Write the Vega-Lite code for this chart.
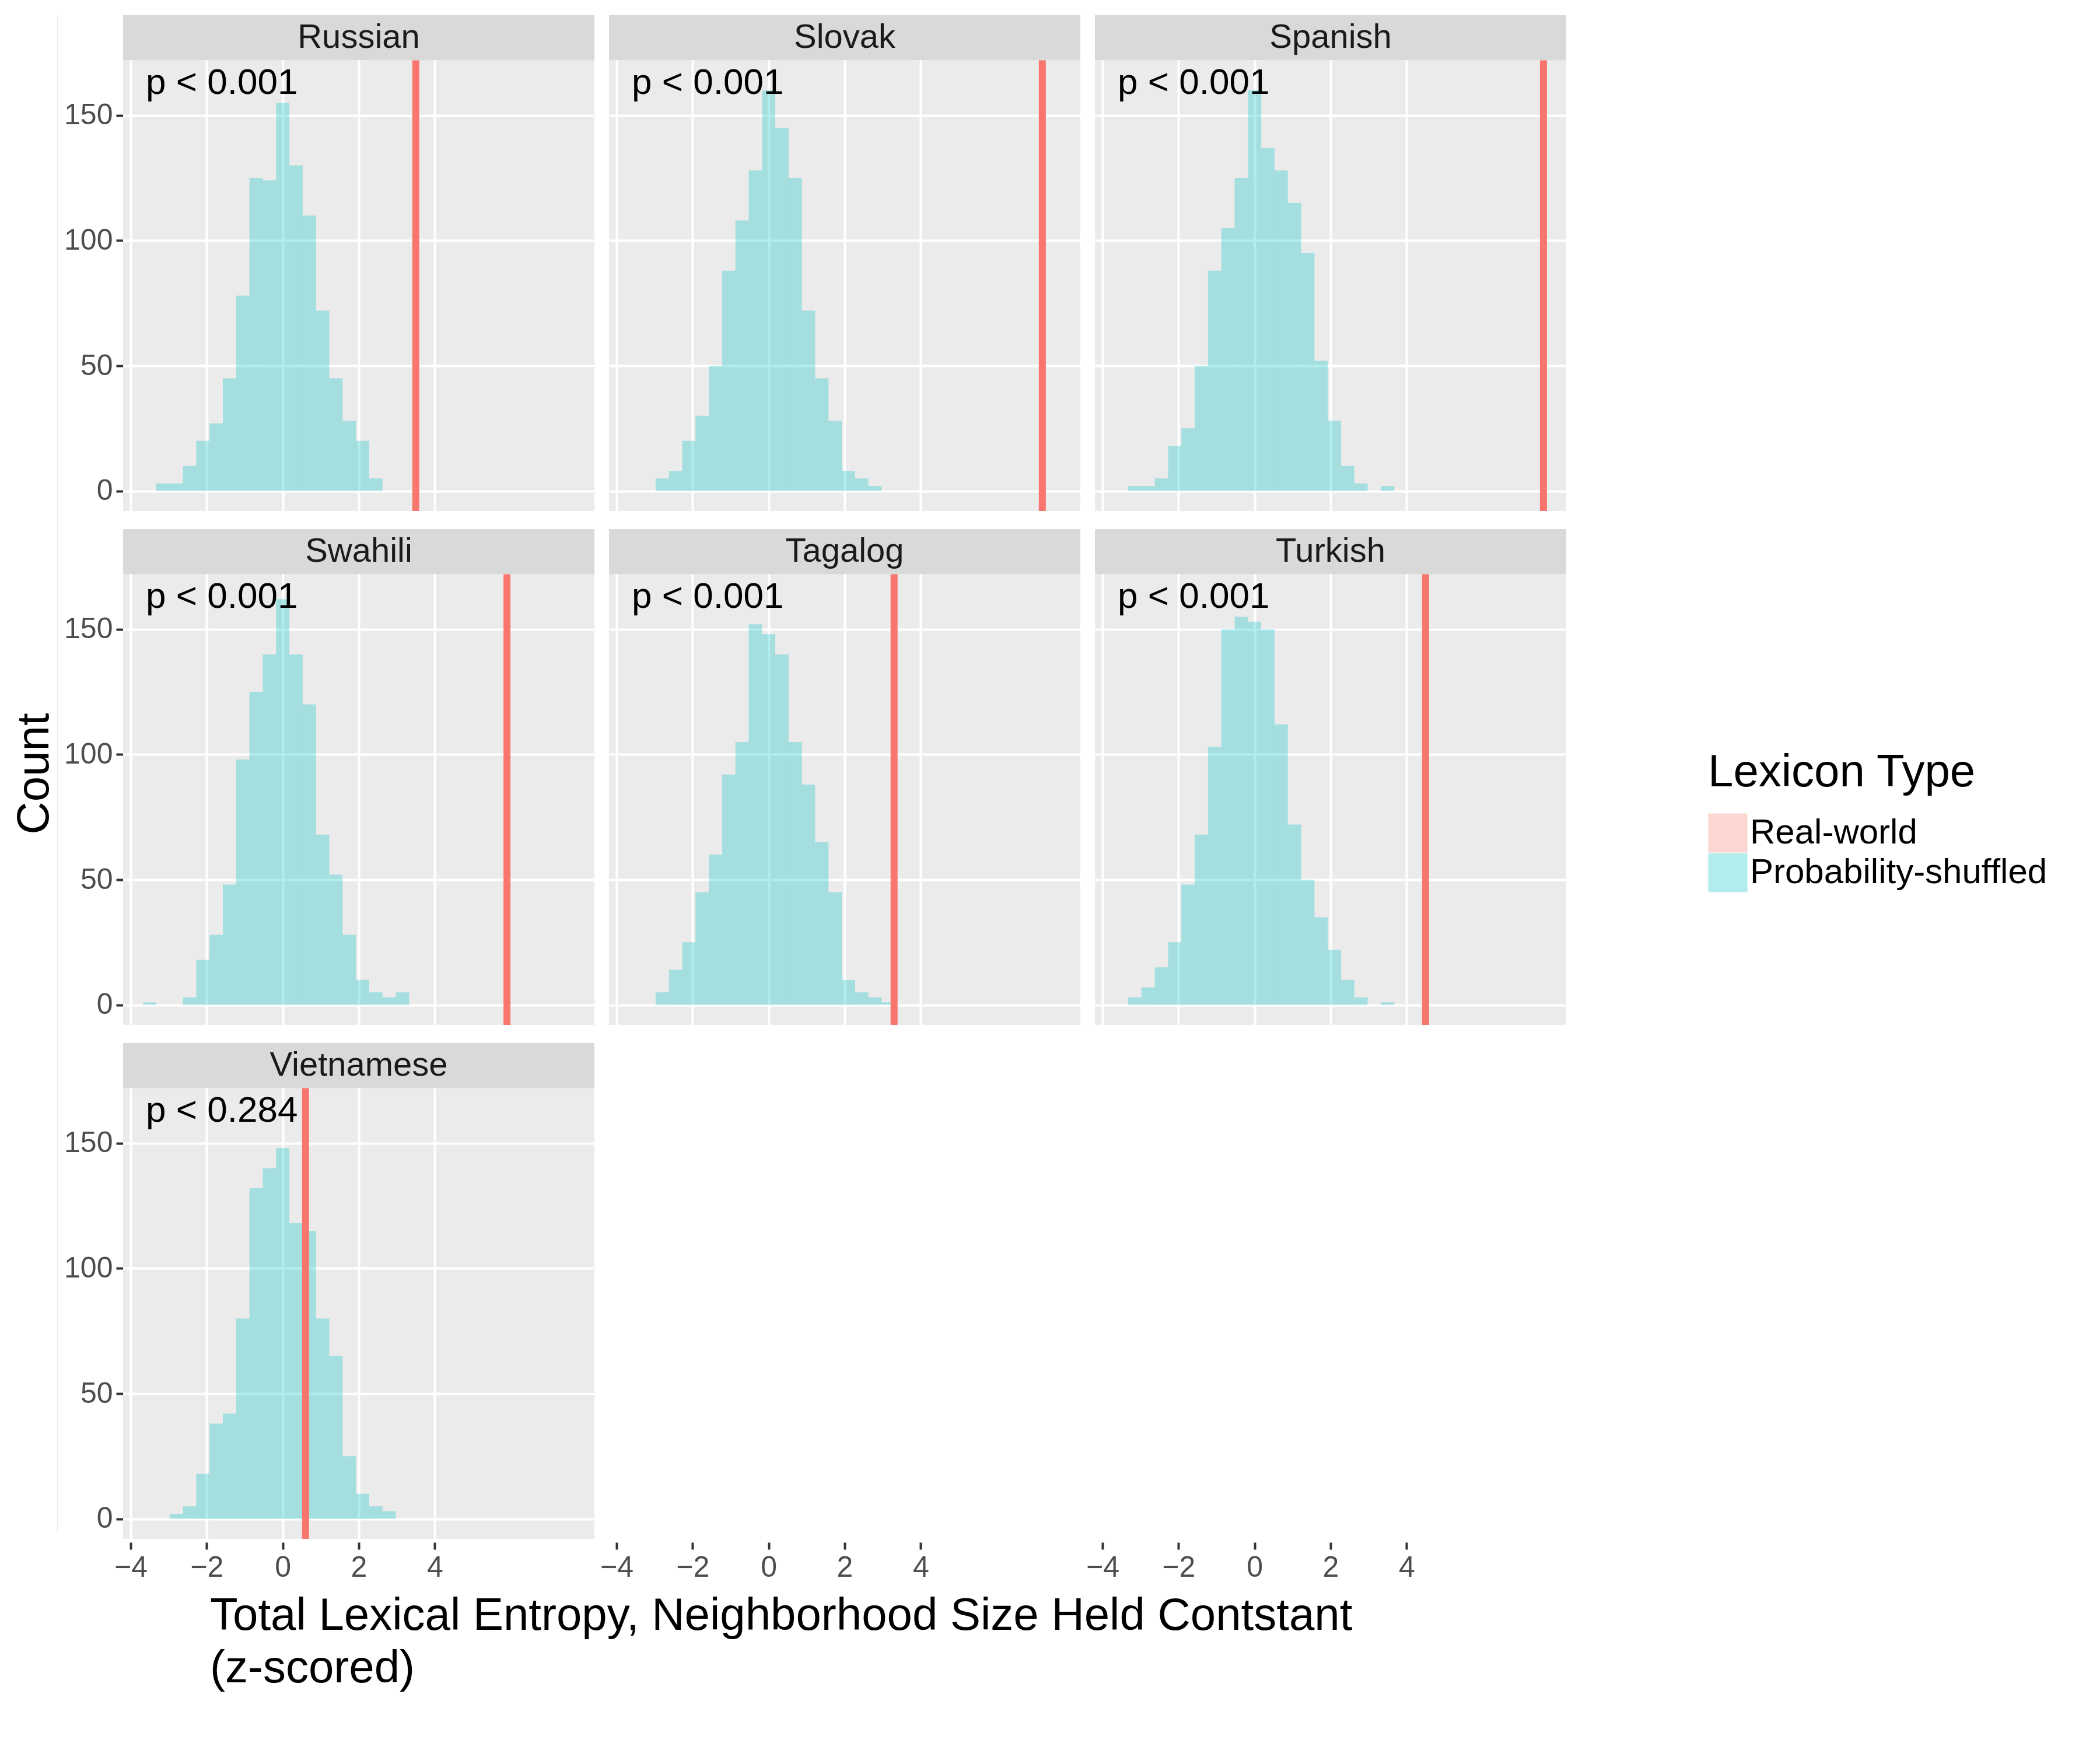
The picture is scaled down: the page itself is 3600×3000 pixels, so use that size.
{
  "$schema": "https://vega.github.io/schema/vega-lite/v6.json",
  "background": "white",
  "padding": {"left": 20, "top": 20, "right": 10, "bottom": 10},
  "title": {"text": ["Total Lexical Entropy, Neighborhood Size Held Contstant", "(z-scored)"], "orient": "bottom", "anchor": "start", "dx": 340, "fontSize": 78, "fontWeight": "normal", "color": "black", "offset": 20, "lineHeight": 90},
  "data": {"values": [
    {"lang":"Russian","real":3.5,"p":"p < 0.001"},
    {"lang":"Slovak","real":7.2,"p":"p < 0.001"},
    {"lang":"Spanish","real":7.6,"p":"p < 0.001"},
    {"lang":"Swahili","real":5.9,"p":"p < 0.001"},
    {"lang":"Tagalog","real":3.3,"p":"p < 0.001"},
    {"lang":"Turkish","real":4.5,"p":"p < 0.001"},
    {"lang":"Vietnamese","real":0.6,"p":"p < 0.284"},
    {"lang":"Russian","z":-3.15,"n":3},{"lang":"Russian","z":-2.8,"n":3},{"lang":"Russian","z":-2.45,"n":10},{"lang":"Russian","z":-2.1,"n":20},{"lang":"Russian","z":-1.75,"n":27},{"lang":"Russian","z":-1.4,"n":45},{"lang":"Russian","z":-1.05,"n":78},{"lang":"Russian","z":-0.7,"n":125},{"lang":"Russian","z":-0.35,"n":124},{"lang":"Russian","z":0,"n":155},{"lang":"Russian","z":0.35,"n":130},{"lang":"Russian","z":0.7,"n":110},{"lang":"Russian","z":1.05,"n":72},{"lang":"Russian","z":1.4,"n":45},{"lang":"Russian","z":1.75,"n":28},{"lang":"Russian","z":2.1,"n":20},{"lang":"Russian","z":2.45,"n":5},
    {"lang":"Slovak","z":-2.8,"n":5},{"lang":"Slovak","z":-2.45,"n":8},{"lang":"Slovak","z":-2.1,"n":20},{"lang":"Slovak","z":-1.75,"n":30},{"lang":"Slovak","z":-1.4,"n":50},{"lang":"Slovak","z":-1.05,"n":88},{"lang":"Slovak","z":-0.7,"n":108},{"lang":"Slovak","z":-0.35,"n":128},{"lang":"Slovak","z":0,"n":160},{"lang":"Slovak","z":0.35,"n":145},{"lang":"Slovak","z":0.7,"n":125},{"lang":"Slovak","z":1.05,"n":72},{"lang":"Slovak","z":1.4,"n":45},{"lang":"Slovak","z":1.75,"n":28},{"lang":"Slovak","z":2.1,"n":8},{"lang":"Slovak","z":2.45,"n":5},{"lang":"Slovak","z":2.8,"n":2},
    {"lang":"Spanish","z":-3.15,"n":2},{"lang":"Spanish","z":-2.8,"n":2},{"lang":"Spanish","z":-2.45,"n":5},{"lang":"Spanish","z":-2.1,"n":18},{"lang":"Spanish","z":-1.75,"n":25},{"lang":"Spanish","z":-1.4,"n":50},{"lang":"Spanish","z":-1.05,"n":88},{"lang":"Spanish","z":-0.7,"n":105},{"lang":"Spanish","z":-0.35,"n":125},{"lang":"Spanish","z":0,"n":160},{"lang":"Spanish","z":0.35,"n":137},{"lang":"Spanish","z":0.7,"n":128},{"lang":"Spanish","z":1.05,"n":115},{"lang":"Spanish","z":1.4,"n":95},{"lang":"Spanish","z":1.75,"n":52},{"lang":"Spanish","z":2.1,"n":28},{"lang":"Spanish","z":2.45,"n":10},{"lang":"Spanish","z":2.8,"n":3},{"lang":"Spanish","z":3.5,"n":2},
    {"lang":"Swahili","z":-3.5,"n":1},{"lang":"Swahili","z":-2.45,"n":3},{"lang":"Swahili","z":-2.1,"n":18},{"lang":"Swahili","z":-1.75,"n":28},{"lang":"Swahili","z":-1.4,"n":48},{"lang":"Swahili","z":-1.05,"n":98},{"lang":"Swahili","z":-0.7,"n":125},{"lang":"Swahili","z":-0.35,"n":140},{"lang":"Swahili","z":0,"n":162},{"lang":"Swahili","z":0.35,"n":140},{"lang":"Swahili","z":0.7,"n":120},{"lang":"Swahili","z":1.05,"n":68},{"lang":"Swahili","z":1.4,"n":52},{"lang":"Swahili","z":1.75,"n":28},{"lang":"Swahili","z":2.1,"n":10},{"lang":"Swahili","z":2.45,"n":5},{"lang":"Swahili","z":2.8,"n":3},{"lang":"Swahili","z":3.15,"n":5},
    {"lang":"Tagalog","z":-2.8,"n":5},{"lang":"Tagalog","z":-2.45,"n":14},{"lang":"Tagalog","z":-2.1,"n":25},{"lang":"Tagalog","z":-1.75,"n":45},{"lang":"Tagalog","z":-1.4,"n":60},{"lang":"Tagalog","z":-1.05,"n":92},{"lang":"Tagalog","z":-0.7,"n":105},{"lang":"Tagalog","z":-0.35,"n":152},{"lang":"Tagalog","z":0,"n":148},{"lang":"Tagalog","z":0.35,"n":140},{"lang":"Tagalog","z":0.7,"n":105},{"lang":"Tagalog","z":1.05,"n":88},{"lang":"Tagalog","z":1.4,"n":65},{"lang":"Tagalog","z":1.75,"n":45},{"lang":"Tagalog","z":2.1,"n":10},{"lang":"Tagalog","z":2.45,"n":5},{"lang":"Tagalog","z":2.8,"n":3},{"lang":"Tagalog","z":3.15,"n":1},
    {"lang":"Turkish","z":-3.15,"n":3},{"lang":"Turkish","z":-2.8,"n":7},{"lang":"Turkish","z":-2.45,"n":15},{"lang":"Turkish","z":-2.1,"n":25},{"lang":"Turkish","z":-1.75,"n":48},{"lang":"Turkish","z":-1.4,"n":68},{"lang":"Turkish","z":-1.05,"n":103},{"lang":"Turkish","z":-0.7,"n":150},{"lang":"Turkish","z":-0.35,"n":155},{"lang":"Turkish","z":0,"n":153},{"lang":"Turkish","z":0.35,"n":150},{"lang":"Turkish","z":0.7,"n":112},{"lang":"Turkish","z":1.05,"n":72},{"lang":"Turkish","z":1.4,"n":50},{"lang":"Turkish","z":1.75,"n":35},{"lang":"Turkish","z":2.1,"n":22},{"lang":"Turkish","z":2.45,"n":10},{"lang":"Turkish","z":2.8,"n":3},{"lang":"Turkish","z":3.5,"n":1},
    {"lang":"Vietnamese","z":-2.8,"n":2},{"lang":"Vietnamese","z":-2.45,"n":5},{"lang":"Vietnamese","z":-2.1,"n":18},{"lang":"Vietnamese","z":-1.75,"n":38},{"lang":"Vietnamese","z":-1.4,"n":42},{"lang":"Vietnamese","z":-1.05,"n":80},{"lang":"Vietnamese","z":-0.7,"n":132},{"lang":"Vietnamese","z":-0.35,"n":140},{"lang":"Vietnamese","z":0,"n":148},{"lang":"Vietnamese","z":0.35,"n":118},{"lang":"Vietnamese","z":0.7,"n":115},{"lang":"Vietnamese","z":1.05,"n":80},{"lang":"Vietnamese","z":1.4,"n":65},{"lang":"Vietnamese","z":1.75,"n":25},{"lang":"Vietnamese","z":2.1,"n":10},{"lang":"Vietnamese","z":2.45,"n":5},{"lang":"Vietnamese","z":2.8,"n":3}
  ]},
  "hconcat": [
    {
      "width": 1,
      "height": 2600,
      "transform": [{"filter": "datum.lang === 'Russian' && isValid(datum.real)"}],
      "mark": {"type": "text", "text": ""},
      "encoding": {
        "y": {"datum": 0, "type": "quantitative",
          "axis": {"title": "Count", "labels": false, "ticks": false, "grid": false, "domain": false, "titlePadding": 0}}
      }
    },
    {
      "facet": {"field": "lang", "type": "nominal", "header": {"title": null, "labels": false, "labelFontSize": 0, "labelPadding": 0}},
      "columns": 3,
      "spacing": {"row": 25, "column": 25},
      "spec": {
        "width": 808,
        "height": 850,
        "layer": [
          {
            "transform": [{"filter": "isValid(datum.n)"},
              {"calculate": "datum.z - 0.175", "as": "z0"},
              {"calculate": "datum.z + 0.175", "as": "z1"},
              {"calculate": "'Probability-shuffled'", "as": "type"}],
            "mark": {"type": "rect", "opacity": 0.3},
            "encoding": {
              "x": {"field": "z0", "type": "quantitative",
                "scale": {"domain": [-4.2, 8.2], "nice": false, "zero": false},
                "axis": {"values": [-4, -2, 0, 2, 4], "format": "d", "title": null}},
              "x2": {"field": "z1"},
              "y": {"field": "n", "type": "quantitative",
                "scale": {"domain": [-8, 190], "nice": false},
                "axis": {"values": [0, 50, 100, 150], "title": null}},
              "y2": {"datum": 0},
              "color": {"field": "type", "type": "nominal",
                "scale": {"domain": ["Real-world", "Probability-shuffled"], "range": ["#F8766D", "#00BFC4"]},
                "legend": {"title": "Lexicon Type"}}
            }
          },
          {
            "transform": [{"filter": "isValid(datum.real)"}, {"calculate": "'Real-world'", "as": "type"}],
            "mark": {"type": "rule", "strokeWidth": 12},
            "encoding": {
              "x": {"field": "real", "type": "quantitative"},
              "y": {"datum": -8},
              "y2": {"datum": 172},
              "color": {"field": "type", "type": "nominal"}
            }
          },
          {
            "transform": [{"filter": "isValid(datum.real)"}],
            "mark": {"type": "rect", "color": "#D9D9D9"},
            "encoding": {
              "x": {"datum": -4.2}, "x2": {"datum": 8.2},
              "y": {"datum": 172}, "y2": {"datum": 190}
            }
          },
          {
            "transform": [{"filter": "isValid(datum.real)"}],
            "mark": {"type": "text", "fontSize": 58, "color": "#1A1A1A", "baseline": "middle"},
            "encoding": {
              "x": {"datum": 2}, "y": {"datum": 181},
              "text": {"field": "lang"}
            }
          },
          {
            "transform": [{"filter": "isValid(datum.real)"}],
            "mark": {"type": "text", "fontSize": 62, "color": "black", "align": "left", "baseline": "middle"},
            "encoding": {
              "x": {"datum": -3.6}, "y": {"datum": 163},
              "text": {"field": "p"}
            }
          }
        ]
      }
    }
  ],
  "spacing": 10,
  "config": {
    "font": "Liberation Sans",
    "view": {"fill": "#EBEBEB", "stroke": null},
    "axis": {"grid": true, "gridColor": "white", "gridWidth": 4, "domain": false,
      "tickColor": "#333333", "tickSize": 12, "tickWidth": 4,
      "labelFontSize": 50, "labelColor": "#4D4D4D", "labelPadding": 6,
      "titleFontSize": 78, "titleFontWeight": "normal", "titleColor": "black"},
    "legend": {"orient": "none", "legendX": 2830, "legendY": 1260,
      "titleFontSize": 78, "titleFontWeight": "normal", "titleColor": "black", "titlePadding": 30,
      "labelFontSize": 60, "labelColor": "black", "labelLimit": 0, "titleLimit": 0, "symbolType": "square", "symbolSize": 4500,
      "symbolOpacity": 0.3, "symbolStrokeWidth": 0, "rowPadding": 0}
  }
}
